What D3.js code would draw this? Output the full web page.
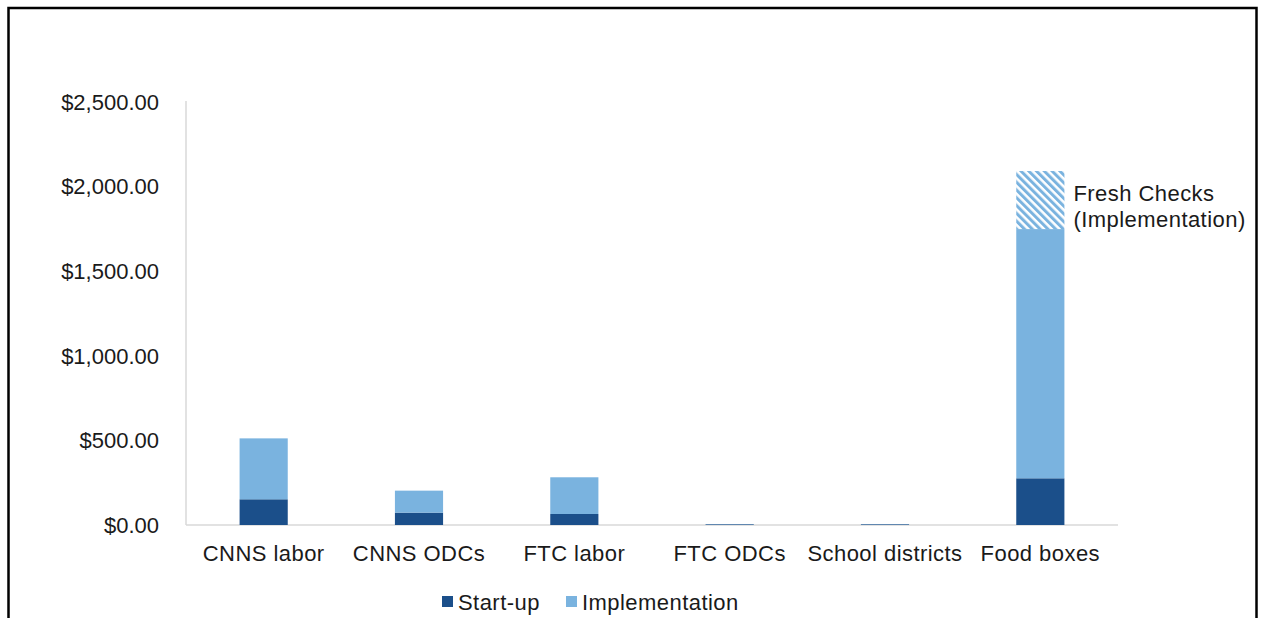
<!DOCTYPE html>
<html><head><meta charset="utf-8">
<script src="https://cdn.jsdelivr.net/npm/d3@7"></script>
<style>body{margin:0;background:#fff;} text{font-family:"Liberation Sans",Arial,sans-serif;fill:#1a1a1a;}</style>
</head><body>
<svg id="c" width="1261" height="618"></svg>
<script>
const categories = ["CNNS labor","CNNS ODCs","FTC labor","FTC ODCs","School districts","Food boxes"];
const startup = [152, 73, 65, 4, 4, 276];
const implementation = [360, 130, 217, 1, 1, 1473];
const freshChecks = [0, 0, 0, 0, 0, 343];
const yTicks = [0, 500, 1000, 1500, 2000, 2500];
const seriesNames = ["Start-up", "Implementation"];
const annotation = ["Fresh Checks", "(Implementation)"];

const colors = {start:"#1b4f8a", impl:"#7ab3df"};
const svg = d3.select("#c");
const fs = 22;
const ls = 0.45;

// frame
svg.append("rect").attr("x",8.5).attr("y",8).attr("width",1248).attr("height",640)
  .attr("fill","none").attr("stroke","#000").attr("stroke-width",2.5);

const defs = svg.append("defs");
const pat = defs.append("pattern").attr("id","hatch").attr("patternUnits","userSpaceOnUse")
  .attr("width",5.5).attr("height",5.5).attr("patternTransform","rotate(-45)");
pat.append("rect").attr("width",5.5).attr("height",5.5).attr("fill","#fff");
pat.append("rect").attr("x",0).attr("width",3).attr("height",5.5).attr("fill",colors.impl);

const x = d3.scaleBand().domain(categories).range([186,1118]).paddingInner(0.69).paddingOuter(0.345);
const y = d3.scaleLinear().domain([0,2500]).range([525,102]);

// axes lines
svg.append("line").attr("x1",186).attr("x2",186).attr("y1",y(2500)-1).attr("y2",y(0)).attr("stroke","#d9d9d9").attr("stroke-width",1.5);
svg.append("line").attr("x1",186).attr("x2",1118).attr("y1",y(0)).attr("y2",y(0)).attr("stroke","#d9d9d9").attr("stroke-width",1.5);

const fmt = d3.format("$,.2f");
svg.append("g").selectAll("text").data(yTicks).join("text")
  .attr("x",159).attr("y",d=>y(d)).attr("dy","0.35em").attr("text-anchor","end")
  .attr("font-size",fs).text(d=>fmt(d));

svg.append("g").selectAll("text").data(categories).join("text")
  .attr("x",d=>x(d)+x.bandwidth()/2).attr("y",553).attr("dy","0.35em").attr("text-anchor","middle")
  .attr("font-size",fs).attr("letter-spacing",ls).text(d=>d);

const data = categories.map((c,i)=>({c, s:startup[i], im:implementation[i], f:freshChecks[i]}));
const g = svg.append("g");
g.selectAll(".s").data(data).join("rect").attr("class","s")
  .attr("x",d=>x(d.c)).attr("width",x.bandwidth())
  .attr("y",d=>y(d.s)).attr("height",d=>y(0)-y(d.s)).attr("fill",colors.start);
g.selectAll(".i").data(data).join("rect").attr("class","i")
  .attr("x",d=>x(d.c)).attr("width",x.bandwidth())
  .attr("y",d=>y(d.s+d.im)).attr("height",d=>y(d.s)-y(d.s+d.im)).attr("fill",colors.impl);
g.selectAll(".f").data(data.filter(d=>d.f>0)).join("rect").attr("class","f")
  .attr("x",d=>x(d.c)).attr("width",x.bandwidth())
  .attr("y",d=>y(d.s+d.im+d.f)).attr("height",d=>y(d.s+d.im)-y(d.s+d.im+d.f)).attr("fill","url(#hatch)");

// annotation
const fb = data[5];
const ay = y(fb.s+fb.im+fb.f);
svg.append("g").selectAll("text").data(annotation).join("text")
  .attr("x",x(fb.c)+x.bandwidth()+9).attr("y",(d,i)=>ay+22+i*26).attr("dy","0.35em")
  .attr("font-size",fs).attr("letter-spacing",ls).text(d=>d);

// legend
const leg = svg.append("g");
const lx = [442, 566];
seriesNames.forEach((n,i)=>{
  leg.append("rect").attr("x",lx[i]).attr("y",596).attr("width",11).attr("height",11).attr("fill",i?colors.impl:colors.start);
  leg.append("text").attr("x",lx[i]+16).attr("y",602).attr("dy","0.35em").attr("font-size",fs).attr("letter-spacing",ls).text(n);
});
</script>
</body></html>
